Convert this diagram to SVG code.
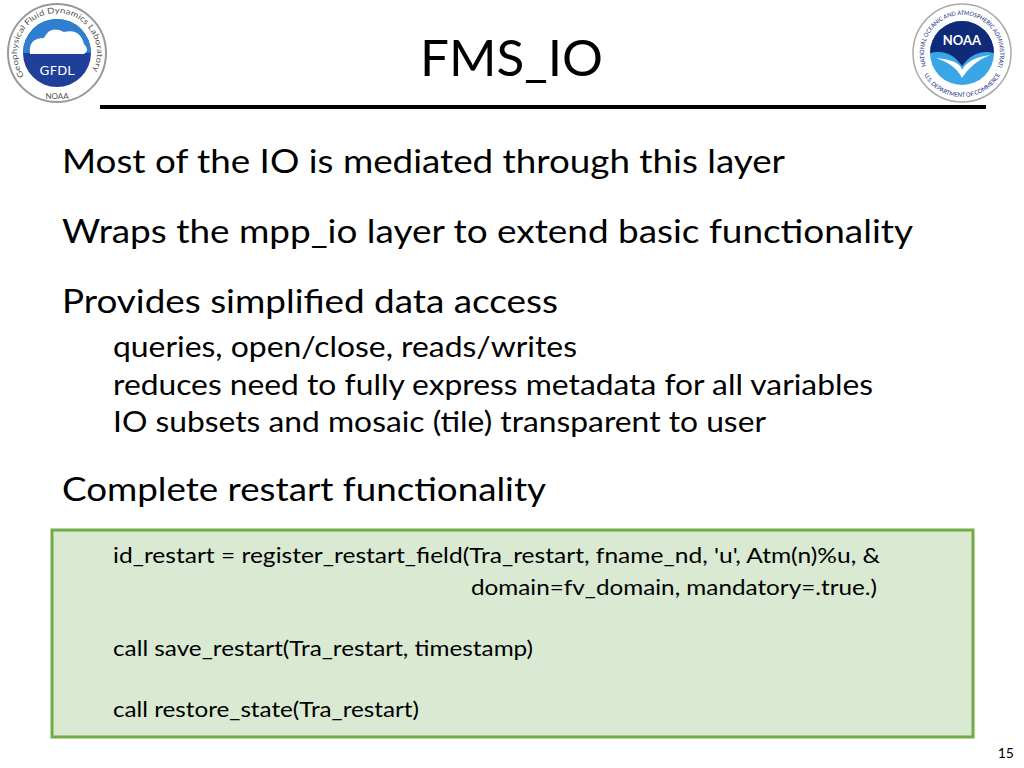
<svg xmlns="http://www.w3.org/2000/svg" width="1024" height="768" viewBox="0 0 1024 768">
<style>
text{font-family:Lato,"Open Sans",sans-serif;fill:#000}
.b{font-size:33px}.s{font-size:28px}.c{font-size:21px}
</style>
<defs>
<path id="gc" d="M 24.2 75.9 A 40 40 0 1 1 89.8 75.9"/>
<path id="nc" d="M 926.3 66 A 38 38 0 1 1 997.7 66"/>
<path id="nc2" d="M 922.1 71.6 A 44 44 0 0 0 1001.9 71.6"/>
</defs>
<rect width="1024" height="768" fill="#fff"/>
<g id="gfdl-logo">
<circle cx="57" cy="53" r="49" fill="#fff" stroke="#999" stroke-width="2"/>
<circle cx="57" cy="53" r="34" fill="#1f3f9a"/>
<path d="M 23 53 A 34 34 0 0 1 91 53 Z" fill="#2f7fd0"/>
<path d="M 30 54 Q 28 38 44 38 Q 50 25 64 32 Q 80 28 84 44 Q 90 50 84 54 Z" fill="#fff"/>
<text x="57" y="75" font-size="13" text-anchor="middle" style="fill:#fff;font-family:'DejaVu Sans',sans-serif">GFDL</text>
<text font-size="8" style="fill:#555"><textPath href="#gc" textLength="168" lengthAdjust="spacingAndGlyphs">Geophysical Fluid Dynamics Laboratory</textPath></text>
<text x="57" y="99" font-size="8" text-anchor="middle" style="fill:#555">NOAA</text>
</g>
<g id="noaa-logo">
<circle cx="962" cy="53" r="49" fill="#fff" stroke="#aaa" stroke-width="1.5"/>
<circle cx="962" cy="53" r="32" fill="#3aa6e6"/>
<path d="M 930 53 A 32 32 0 0 1 994 53 Q 975 48 962 66 Q 950 48 930 53 Z" fill="#102a7a"/>
<path d="M 936 58 Q 960 60 962 70 Q 968 58 990 55 Q 972 62 962 78 Q 955 64 936 58 Z" fill="#fff"/>
<text x="962" y="45" font-size="13" text-anchor="middle" font-weight="bold" style="fill:#fff">NOAA</text>
<text font-size="6" style="fill:#102a7a"><textPath href="#nc" textLength="155" lengthAdjust="spacingAndGlyphs">NATIONAL OCEANIC AND ATMOSPHERIC ADMINISTRATION</textPath></text>
<text font-size="6" style="fill:#102a7a"><textPath href="#nc2" startOffset="4" textLength="92" lengthAdjust="spacingAndGlyphs">U.S. DEPARTMENT OF COMMERCE</textPath></text>
</g>
<g id="title">
<text x="420" y="76" font-size="50" textLength="183" lengthAdjust="spacingAndGlyphs">FMS_IO</text>
<rect x="100" y="105" width="886" height="4" fill="#000"/>
</g>
<g id="bullets">
<text class="b" x="62" y="173" textLength="723" lengthAdjust="spacingAndGlyphs">Most of the IO is mediated through this layer</text>
<text class="b" x="62" y="243" textLength="851" lengthAdjust="spacingAndGlyphs">Wraps the mpp_io layer to extend basic functionality</text>
<text class="b" x="62" y="313" textLength="496" lengthAdjust="spacingAndGlyphs">Provides simplified data access</text>
<text class="s" x="113" y="357" textLength="464" lengthAdjust="spacingAndGlyphs">queries, open/close, reads/writes</text>
<text class="s" x="113" y="395" textLength="760" lengthAdjust="spacingAndGlyphs">reduces need to fully express metadata for all variables</text>
<text class="s" x="113" y="432" textLength="653" lengthAdjust="spacingAndGlyphs">IO subsets and mosaic (tile) transparent to user</text>
<text class="b" x="62" y="501" textLength="484" lengthAdjust="spacingAndGlyphs">Complete restart functionality</text>
</g>
<g id="code-box">
<rect x="52" y="530" width="921" height="207" fill="#d9e9d2" stroke="#70ad47" stroke-width="3"/>
<text class="c" x="113" y="563" textLength="767" lengthAdjust="spacingAndGlyphs">id_restart = register_restart_field(Tra_restart, fname_nd, 'u', Atm(n)%u, &amp;</text>
<text class="c" x="471" y="595" textLength="406" lengthAdjust="spacingAndGlyphs">domain=fv_domain, mandatory=.true.)</text>
<text class="c" x="113" y="656" textLength="420" lengthAdjust="spacingAndGlyphs">call save_restart(Tra_restart, timestamp)</text>
<text class="c" x="113" y="717" textLength="306" lengthAdjust="spacingAndGlyphs">call restore_state(Tra_restart)</text>
</g>
<text x="1014" y="758" font-size="14" text-anchor="end">15</text>
</svg>
